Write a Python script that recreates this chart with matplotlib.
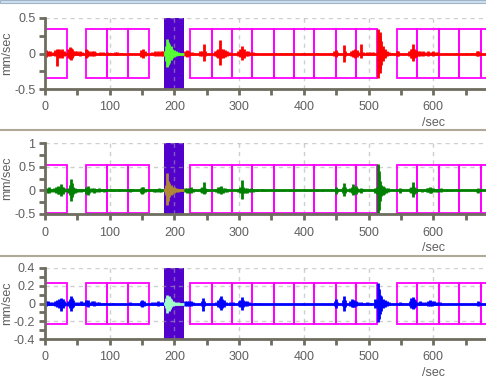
import numpy as np
import matplotlib.pyplot as plt
from matplotlib.ticker import FixedLocator, MultipleLocator
from matplotlib.lines import Line2D
from matplotlib.patches import Rectangle

plt.rcParams['font.family'] = ['Liberation Sans', 'DejaVu Sans']

W, H = 486, 378
t_max = 681.6

# analysis windows (magenta boxes), seconds
win_start = [0, 63.8, 96.3, 128.7, 224.6, 257.7, 288.6, 320.4, 353.4, 384.4,
             416.2, 449.3, 480.2, 544.5, 575.4, 608.5, 640.3, 673.4]
win_end = [33.5, 96.3, 128.7, 160.2, 257.7, 288.6, 320.4, 353.4, 384.4, 416.2,
           449.3, 480.2, 512.7, 575.4, 608.5, 640.3, 673.4, 706.0]
# selected window (purple)
sel_start, sel_end = 183.8, 214.2

# waveform spikes: (time, upper amplitude, lower amplitude)
red_spikes = [
    (2, .05, .05), (5, .04, .03), (8, .03, .03), (12, .02, .02),
    (16, .05, .04), (19, .06, .18), (22, .07, .06), (25, .04, .05), (27, .06, .06), (30, .03, .03),
    (36, .07, .06), (38, .09, .08), (40, .08, .09), (42, .06, .06), (44, .04, .04), (47, .03, .02),
    (50, .03, .02), (54, .03, .03), (57, .02, .02),
    (63, .07, .06), (65, .05, .05), (68, .03, .03), (72, .04, .04), (75, .03, .03), (78, .02, .02),
    (85, .02, .02), (90, .02, .01), (96, .02, .02), (100, .01, .01), (108, .02, .02), (112, .02, .02),
    (118, .01, .01), (130, .01, .01), (149, .05, .05), (151, .06, .06), (154, .03, .03),
    (165, .02, .02), (170, .03, .03), (175, .03, .03), (179, .03, .03), (182, .04, .04),
    (216, .04, .04), (219, .05, .05), (222, .04, .04), (227, .02, .02), (231, .01, .01),
    (240, .03, .03), (243, .04, .04), (245, .14, .11), (247, .04, .04),
    (263, .03, .03), (266, .05, .05), (268, .06, .06), (270, .19, .16), (272, .07, .07), (275, .06, .06),
    (278, .05, .05), (281, .03, .03), (284, .02, .02),
    (299, .03, .03), (302, .06, .05), (305, .11, .09), (307, .06, .06), (310, .04, .04), (313, .03, .03),
    (317, .02, .02), (321, .02, .02), (326, .01, .01),
    (356, .01, .01), (364, .01, .01), (372, .01, .01), (380, .01, .01), (398, .01, .01), (420, .01, .01),
    (440, .01, .01), (447, .04, .04), (449, .05, .05), (452, .02, .02), (462, .12, .12), (464, .04, .04),
    (473, .03, .03), (476, .05, .05), (479, .06, .06), (482, .05, .05), (485, .02, .02), (488, .13, .06),
    (492, .02, .02), (497, .02, .02), (502, .02, .02), (507, .02, .02),
    (514, .10, .10), (515, .35, .34), (517, .30, .28), (518, .25, .22), (520, .17, .16), (522, .10, .10),
    (525, .06, .06), (528, .04, .04), (531, .02, .02), (536, .01, .01),
    (544, .04, .04), (546, .03, .03),
    (562, .03, .03), (565, .06, .06), (567, .07, .07), (568, .14, .10), (570, .06, .06), (573, .05, .05),
    (576, .03, .03), (580, .03, .03), (584, .03, .03), (588, .02, .02), (592, .03, .03), (596, .02, .02),
    (600, .03, .03), (604, .02, .02), (608, .02, .02),
    (620, .01, .01), (635, .01, .01), (650, .01, .01), (660, .01, .01),
    (667, .03, .03), (669, .04, .04), (672, .02, .02),
]
red_sel = [
    (185, .03, .03), (187, .10, .10), (189, .21, .19), (190, .16, .16), (192, .14, .13), (194, .10, .09),
    (196, .07, .07), (199, .05, .05), (202, .03, .03), (206, .02, .02), (210, .01, .01),
]

green_spikes = [
    (3, .05, .05), (6, .06, .05), (9, .03, .03),
    (14, .04, .04), (17, .06, .05), (20, .09, .08), (22, .07, .07), (24, .13, .12), (26, .06, .06),
    (28, .08, .07), (30, .04, .04),
    (36, .05, .05), (38, .12, .10), (40, .23, .23), (42, .16, .14), (44, .08, .08), (46, .05, .05), (48, .03, .03),
    (51, .03, .03), (55, .03, .03), (58, .02, .02),
    (64, .08, .07), (66, .10, .09), (68, .05, .05),
    (73, .04, .04), (76, .05, .05), (79, .03, .03), (83, .04, .03),
    (88, .02, .02), (91, .03, .03), (95, .02, .02),
    (102, .02, .02), (106, .01, .01), (115, .02, .02),
    (128, .02, .02), (131, .03, .03), (134, .02, .02),
    (148, .05, .05), (150, .08, .08), (152, .06, .06), (155, .03, .03),
    (164, .02, .02), (168, .03, .03), (172, .03, .03), (176, .04, .03), (180, .03, .03),
    (216, .04, .04), (219, .05, .05), (222, .05, .05), (225, .06, .06), (228, .03, .03),
    (241, .04, .04), (243, .06, .05), (245, .18, .08), (247, .05, .05), (250, .02, .02),
    (265, .03, .03), (268, .06, .06), (270, .07, .06), (272, .10, .07), (275, .05, .05), (278, .04, .04),
    (282, .03, .03),
    (299, .03, .03), (301, .06, .05), (304, .21, .18), (306, .07, .06), (309, .05, .05), (312, .05, .05),
    (315, .03, .03), (318, .04, .04), (321, .03, .03),
    (328, .01, .01), (335, .02, .02), (340, .01, .01),
    (355, .01, .01), (362, .01, .01), (368, .01, .01), (378, .01, .01), (385, .01, .01), (402, .01, .01),
    (410, .01, .01), (420, .01, .01), (428, .01, .01),
    (449, .07, .07), (451, .03, .03),
    (460, .06, .05), (462, .16, .12), (464, .06, .05),
    (472, .04, .04), (474, .07, .06), (476, .13, .10), (478, .08, .07), (480, .09, .08), (482, .04, .04),
    (485, .03, .03), (488, .05, .05), (491, .02, .02),
    (510, .05, .05), (513, .08, .07), (515, .55, .47), (516, .40, .42), (518, .20, .22), (520, .12, .12),
    (522, .10, .09), (524, .07, .07), (527, .05, .05), (530, .04, .03),
    (549, .05, .05), (551, .02, .02),
    (564, .04, .04), (566, .07, .06), (568, .10, .08), (569, .18, .15), (571, .07, .07), (574, .05, .05),
    (577, .02, .02),
    (582, .03, .03), (586, .02, .02), (590, .04, .03), (592, .05, .04), (595, .08, .05), (597, .05, .05),
    (600, .04, .04), (604, .03, .03), (608, .03, .03), (612, .04, .04),
    (622, .01, .01), (628, .01, .01), (640, .01, .01),
    (668, .03, .03), (670, .05, .05), (672, .02, .02),
]
green_sel = [
    (185, .04, .04), (187, .12, .10), (189, .36, .30), (190, .20, .22), (192, .15, .15), (194, .12, .10),
    (196, .08, .08), (199, .06, .06), (202, .04, .04), (206, .03, .03), (210, .02, .02),
]

blue_spikes = [
    (2, .03, .03), (5, .03, .02), (8, .02, .02), (11, .02, .02),
    (15, .03, .03), (18, .04, .04), (21, .05, .05), (24, .06, .085), (26, .04, .04), (28, .05, .05),
    (30, .03, .03),
    (36, .03, .03), (38, .05, .05), (40, .08, .09), (42, .06, .05), (44, .04, .04), (47, .02, .02),
    (51, .02, .02), (55, .03, .02), (58, .02, .02),
    (64, .04, .03), (66, .04, .04), (68, .02, .02),
    (73, .03, .02), (76, .03, .03), (80, .02, .02), (84, .02, .02),
    (89, .01, .01), (95, .01, .01), (105, .01, .01),
    (130, .01, .01), (132, .02, .02),
    (148, .03, .03), (150, .045, .04), (153, .03, .03),
    (165, .015, .015), (170, .02, .02), (175, .025, .025), (179, .02, .02), (182, .02, .02),
    (216, .025, .025), (219, .03, .03), (222, .03, .03), (225, .03, .03), (228, .02, .02),
    (242, .03, .03), (244, .065, .085), (246, .03, .03),
    (265, .02, .02), (268, .04, .04), (270, .06, .05), (272, .09, .075), (274, .05, .05), (277, .04, .04),
    (280, .02, .02), (286, .02, .02), (290, .015, .015),
    (300, .03, .03), (302, .04, .04), (304, .075, .075), (306, .04, .04), (309, .03, .03), (312, .03, .03),
    (316, .02, .02), (324, .01, .01), (330, .01, .01),
    (448, .03, .03), (450, .05, .05), (452, .02, .02),
    (460, .04, .03), (462, .083, .087), (464, .04, .04),
    (472, .03, .03), (474, .05, .04), (476, .04, .04), (478, .04, .04), (481, .03, .03), (484, .02, .02),
    (488, .02, .02), (492, .01, .01), (498, .015, .015), (503, .01, .01),
    (510, .05, .05), (512, .04, .04), (515, .23, .21), (516, .16, .18), (518, .10, .12), (520, .08, .08),
    (522, .05, .05), (525, .04, .04), (528, .03, .03), (531, .015, .015),
    (548, .02, .02), (551, .01, .01),
    (564, .03, .03), (566, .06, .05), (568, .075, .06), (570, .05, .05), (572, .04, .04), (575, .02, .02),
    (580, .03, .02), (583, .02, .02), (588, .02, .02), (592, .03, .03), (595, .035, .03), (598, .03, .03),
    (602, .03, .02), (606, .02, .02), (610, .02, .02),
    (669, .03, .03), (671, .02, .02),
]
blue_sel = [
    (185, .02, .02), (187, .06, .05), (189, .10, .105), (191, .08, .09), (193, .06, .06), (195, .05, .04),
    (198, .03, .03), (201, .02, .02), (205, .015, .015), (209, .01, .01),
]

panels = [
    # spikes, selected spikes, colour, sel colour, ylim, major, minor, box, bottom px
    (red_spikes, red_sel, '#ff0000', '#55ff33', (-0.5, 0.5), [-0.5, 0, 0.5],
     [-0.25, 0.25], (-0.35, 0.34), 89),
    (green_spikes, green_sel, '#008000', '#b08838', (-0.5, 1.0), [-0.5, 0, 0.5, 1],
     [-0.25, 0.25, 0.75], (-0.47, 0.53), 214),
    (blue_spikes, blue_sel, '#0000ff', '#a0ffc8', (-0.4, 0.4), [-0.4, -0.2, 0, 0.2, 0.4],
     [-0.3, -0.1, 0.1, 0.3], (-0.23, 0.228), 339),
]

spine_col = '#6f6c60'
text_col = '#5f5f5f'

fig = plt.figure(figsize=(W / 100, H / 100), dpi=100)
fig.patch.set_facecolor('white')

for spikes, sel, col, sel_col, ylim, major, minor, box, bottom_px in panels:
    ax = fig.add_axes([45 / W, 1 - bottom_px / H, (W - 45) / W, 71 / H])
    ax.set_xlim(0, t_max)
    ax.set_ylim(*ylim)

    # selected window
    ax.axvspan(sel_start, sel_end, color='#5200cc', lw=0, zorder=1)

    # grid
    for x in range(100, 700, 100):
        ax.axvline(x, color='#a8a8a8', alpha=0.55, lw=1, ls=(0, (3, 3)), zorder=1.5)
    for y in major:
        ax.axhline(y, color='#a8a8a8', alpha=0.55, lw=1, ls=(0, (3, 3)), zorder=1.5)

    # analysis windows
    for s, e in zip(win_start, win_end):
        ax.add_patch(Rectangle((s, box[0]), e - s, box[1] - box[0], fill=False,
                               edgecolor='#ff00ff', lw=1.3, zorder=2.5))

    # waveform
    t = np.array([p[0] for p in spikes])
    up = np.array([p[1] for p in spikes])
    dn = np.array([p[2] for p in spikes])
    ax.hlines(0, 0, t_max, color=col, lw=2, zorder=3)
    ax.vlines(t, -dn, up, color=col, lw=2, zorder=3)

    ts = np.array([p[0] for p in sel])
    us = np.array([p[1] for p in sel])
    ds = np.array([p[2] for p in sel])
    ax.hlines(0, sel_start, sel_end, color=sel_col, lw=2, zorder=3.5)
    ax.vlines(ts, -ds, us, color=sel_col, lw=2, zorder=3.5)

    # axes styling
    for side in ['top', 'right']:
        ax.spines[side].set_visible(False)
    for side in ['left', 'bottom']:
        ax.spines[side].set_color(spine_col)
        ax.spines[side].set_linewidth(2)
        ax.spines[side].set_zorder(4)
    ax.xaxis.set_major_locator(MultipleLocator(100))
    ax.xaxis.set_minor_locator(MultipleLocator(50))
    ax.yaxis.set_major_locator(FixedLocator(major))
    ax.yaxis.set_minor_locator(FixedLocator(minor))
    ax.set_yticklabels([f'{v:g}' for v in major])
    ax.tick_params(which='both', color=spine_col, width=2, length=4, labelcolor=text_col,
                   labelsize=9)
    ax.tick_params(axis='x', which='both', pad=5)
    ax.tick_params(axis='y', which='both', pad=3)
    ax.set_facecolor('none')

    ax.text(601, -0.48, '/sec', transform=ax.get_xaxis_transform(), ha='center', va='center',
            color=text_col, fontsize=9)
    fig.text(7.5 / W, 1 - (bottom_px - 36) / H, 'mm/sec', rotation=90, ha='center', va='center',
             color=text_col, fontsize=9)

# panel separators and top window strip
for y in [130, 256]:
    fig.add_artist(Line2D([0, 1], [1 - y / H, 1 - y / H], color='#b0a898', lw=1.5))
fig.add_artist(Rectangle((0, 1 - 3 / H), 1, 3 / H, transform=fig.transFigure,
                         facecolor='#cfe0f2', edgecolor='#a0b4c8', lw=0.8))

fig.savefig('out.png', dpi=100)
